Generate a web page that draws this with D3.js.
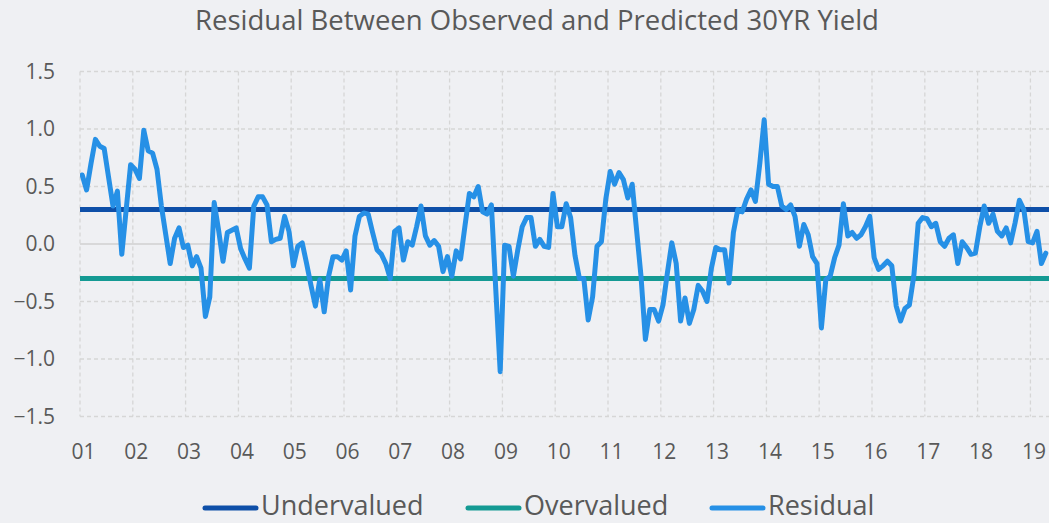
<!DOCTYPE html>
<html>
<head>
<meta charset="utf-8">
<script src="https://cdn.jsdelivr.net/npm/d3@7"></script>
<style>
  html, body { margin: 0; padding: 0; background: #eff0f3; }
  svg { display: block; }
  text { font-family: "Open Sans", "Noto Sans", sans-serif; fill: #595959; }
</style>
</head>
<body>
<svg id="chart" width="1049" height="523"></svg>
<script>
// ---- data ----
const title = "Residual Between Observed and Predicted 30YR Yield";
const yearLabels = ["01","02","03","04","05","06","07","08","09","10","11","12","13","14","15","16","17","18","19"];
const yTicks = [1.5, 1.0, 0.5, 0.0, -0.5, -1.0, -1.5];
const undervalued = 0.3;
const overvalued = -0.3;
// residual, monthly from Jan 2001 (month offset, value)
const residualMonths = [
  0,1,2,3,4,5,6,7,8,9,10,11,12,13,14,15,16,17,18,19,20,21,22,23,24,25,26,27,28,29,
  30,31,32,33,34,35,36,37,38,39,40,41,42,43,44,45,46,47,48,49,50,51,52,53,54,55,56,57,58,59,
  60,61,62,63,64,65,66,67,68,69,70,71,72,73,74,75,76,77,78,79,80,81,82,83,84,85,86,87,88,89,
  90,91,92,93,94,95,96,97,98,99,100,101,102,103,104,105,106,107,108,109,110,111,112,113,114,115,116,117,118,119,
  120,121,122,123,124,125,126,127,128,129,130,131,132,133,134,135,136,137,138,139,140,141,142,143,144,145,146,147,148,149,
  150,151,152,153,154,155,156,157,158,159,160,161,162,163,164,165,166,167,168,169,170,171,172,173,174,175,176,177,178,179,
  180,181,182,183,184,185,186,187,188,189,190,191,192,193,194,195,196,197,198,199,200,201,202,203,204,205,206,207,208,209,
  210,211,212,213,214,215,216,217,218,219
];
const residualValues = [
  0.60,0.47,0.70,0.91,0.85,0.83,0.58,0.33,0.46,-0.09,0.30,0.69,0.65,0.57,0.99,0.81,0.79,0.65,0.33,0.08,-0.17,0.05,0.14,-0.03,-0.01,-0.19,-0.11,-0.21,-0.63,-0.46,
  0.36,0.12,-0.15,0.10,0.12,0.14,-0.04,-0.13,-0.21,0.33,0.41,0.41,0.34,0.02,0.04,0.05,0.24,0.11,-0.19,-0.02,0.01,-0.17,-0.36,-0.54,-0.31,-0.59,-0.28,-0.11,-0.11,-0.14,
  -0.06,-0.40,0.07,0.24,0.27,0.26,0.10,-0.05,-0.09,-0.17,-0.30,0.11,0.14,-0.14,0.02,-0.01,0.15,0.33,0.07,-0.01,0.03,-0.02,-0.24,-0.11,-0.28,-0.06,-0.13,0.16,0.44,0.41,
  0.50,0.28,0.26,0.34,-0.40,-1.11,-0.01,-0.02,-0.28,-0.05,0.15,0.23,0.23,-0.02,0.04,-0.02,-0.03,0.44,0.15,0.15,0.35,0.23,-0.10,-0.30,-0.30,-0.66,-0.46,-0.02,0.02,0.39,
  0.63,0.52,0.62,0.56,0.40,0.52,0.12,-0.28,-0.83,-0.57,-0.57,-0.67,-0.53,-0.25,0.01,-0.17,-0.67,-0.47,-0.69,-0.57,-0.36,-0.41,-0.50,-0.21,-0.03,-0.05,-0.05,-0.34,0.10,0.30,
  0.28,0.39,0.47,0.37,0.70,1.08,0.52,0.50,0.50,0.33,0.30,0.34,0.24,-0.02,0.17,0.08,-0.11,-0.17,-0.73,-0.31,-0.28,-0.12,-0.01,0.35,0.07,0.10,0.05,0.08,0.15,0.24,
  -0.12,-0.22,-0.19,-0.15,-0.19,-0.54,-0.67,-0.56,-0.53,-0.28,0.18,0.23,0.22,0.15,0.18,0.02,-0.02,0.05,0.08,-0.17,0.02,-0.03,-0.09,-0.08,0.15,0.33,0.18,0.26,0.11,0.07,
  0.14,0.01,0.18,0.38,0.30,0.02,0.01,0.11,-0.17,-0.08
];
const legendNames = ["Undervalued", "Overvalued", "Residual"];
const colors = { Undervalued: "#0e4fa8", Overvalued: "#149a93", Residual: "#2690e6" };

// ---- layout ----
const W = 1049, H = 523;
const plot = { left: 80, top: 71.5, bottom: 416.5, right: 1083.2 };
const svg = d3.select("#chart");

svg.append("rect").attr("width", W).attr("height", H).attr("fill", "#eff0f3");

const x = d3.scaleLinear().domain([-0.5, yearLabels.length * 12 - 0.5]).range([plot.left, plot.right]);
const y = d3.scaleLinear().domain([-1.5, 1.5]).range([plot.bottom, plot.top]);

svg.append("clipPath").attr("id", "clip")
  .append("rect").attr("x", plot.left).attr("y", plot.top - 20)
  .attr("width", plot.right - plot.left).attr("height", plot.bottom - plot.top + 40);

// horizontal gridlines
const g = svg.append("g");
g.selectAll("line.hg").data(yTicks).join("line")
  .attr("x1", plot.left).attr("x2", plot.right)
  .attr("y1", d => y(d)).attr("y2", d => y(d))
  .attr("stroke", d => d === 0 ? "#d0d0d0" : "#d6d6d6")
  .attr("stroke-width", d => d === 0 ? 1.5 : 1.3)
  .attr("stroke-dasharray", d => d === 0 ? null : "4,3");

// vertical gridlines at year boundaries
const yearIdx = d3.range(yearLabels.length + 1);
g.selectAll("line.vg").data(yearIdx).join("line")
  .attr("x1", d => x(d * 12 - 0.5)).attr("x2", d => x(d * 12 - 0.5))
  .attr("y1", plot.top).attr("y2", plot.bottom)
  .attr("stroke", "#d6d6d6").attr("stroke-width", 1.3)
  .attr("stroke-dasharray", "4,3");

// y labels
const yAxis = d3.axisLeft(y).tickValues(yTicks).tickSize(0).tickPadding(0).tickFormat(d3.format(".1f"));
const ya = svg.append("g").attr("transform", `translate(55,0)`).call(yAxis);
ya.select(".domain").remove();
ya.selectAll("text").style("font-size", "21px").attr("fill", "#595959")
  .style("font-family", '"Open Sans", sans-serif');

// x labels
const xAxis = d3.axisBottom(x).tickValues(yearLabels.map((d, i) => i * 12 - 0.5))
  .tickSize(0).tickPadding(0).tickFormat((d, i) => yearLabels[i]);
const xa = svg.append("g").attr("transform", `translate(3,${plot.bottom + 28})`).call(xAxis);
xa.select(".domain").remove();
xa.selectAll("text").style("font-size", "21px").attr("fill", "#595959")
  .style("font-family", '"Open Sans", sans-serif');

// threshold lines
const lines = svg.append("g").attr("clip-path", "url(#clip)");
lines.append("line").attr("x1", plot.left).attr("x2", plot.right)
  .attr("y1", y(undervalued)).attr("y2", y(undervalued))
  .attr("stroke", colors.Undervalued).attr("stroke-width", 5);
lines.append("line").attr("x1", plot.left).attr("x2", plot.right)
  .attr("y1", y(overvalued)).attr("y2", y(overvalued))
  .attr("stroke", colors.Overvalued).attr("stroke-width", 5);

// residual line
const data = residualMonths.map((m, i) => ({ m, v: residualValues[i] }));
const line = d3.line().x(d => x(d.m)).y(d => y(d.v));
lines.append("path").datum(data).attr("d", line)
  .attr("fill", "none").attr("stroke", colors.Residual)
  .attr("stroke-width", 5).attr("stroke-linejoin", "round").attr("stroke-linecap", "round");

// title
svg.append("text").attr("x", 537).attr("y", 30).attr("text-anchor", "middle")
  .style("font-size", "27.5px").attr("fill", "#595959").text(title);

// legend
const legendX = [203, 466, 710];
const lg = svg.append("g");
legendNames.forEach((n, i) => {
  lg.append("line").attr("x1", legendX[i] + 2).attr("x2", legendX[i] + 53)
    .attr("y1", 508).attr("y2", 508)
    .attr("stroke", colors[n]).attr("stroke-width", 5).attr("stroke-linecap", "round");
  lg.append("text").attr("x", legendX[i] + 58).attr("y", 515)
    .style("font-size", "27px").attr("fill", "#595959").text(n);
});
</script>
</body>
</html>
